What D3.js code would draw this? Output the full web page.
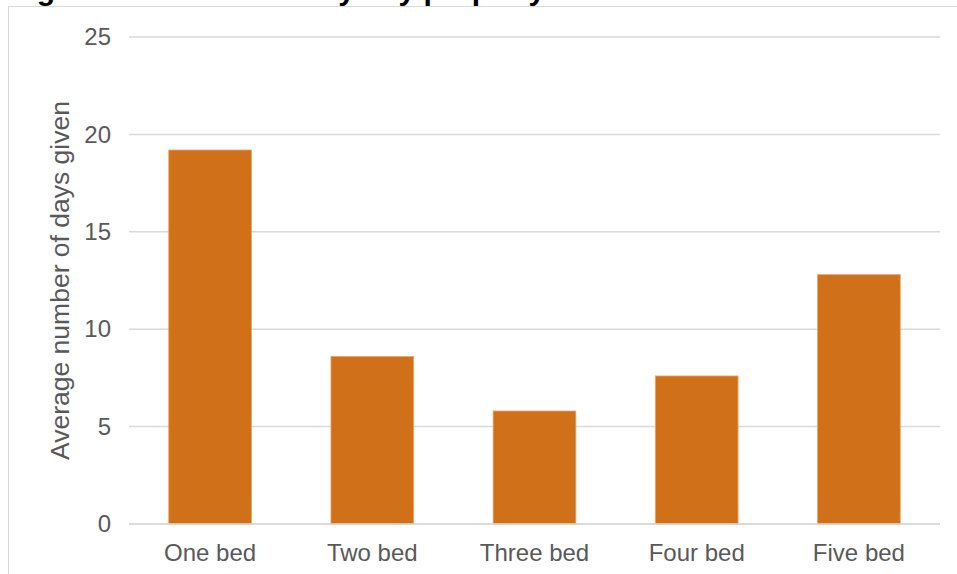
<!DOCTYPE html>
<html>
<head>
<meta charset="utf-8">
<script src="https://cdn.jsdelivr.net/npm/d3@7"></script>
<style>
  body { margin: 0; background: #fff; }
  svg { display: block; font-family: "Liberation Sans", Arial, sans-serif; }
</style>
</head>
<body>
<div class="container"></div>
<script>
var categories = ['One bed', 'Two bed', 'Three bed', 'Four bed', 'Five bed'];
var values = [19.2, 8.6, 5.8, 7.6, 12.8];
var yTicks = [0, 5, 10, 15, 20, 25];
var yTitle = 'Average number of days given';
var chartTitle = 'Figure 5: Number of days by property size';

var width = 957;
var height = 574;

// plot area edges
var pLeft = 129, pRight = 940, pTop = 37, pBottom = 524;

var svg = d3.select('.container')
    .append('svg')
    .attr('width', width)
    .attr('height', height);

// title sits mostly above the visible area, only descenders show
svg.append('text')
    .attr('x', 10)
    .attr('y', -0.5)
    .style('font-size', '30px')
    .style('font-weight', 'bold')
    .style('fill', '#000')
    .text(chartTitle);

// chart frame
svg.append('rect')
    .attr('x', 8.5)
    .attr('y', 6.5)
    .attr('width', 1000)
    .attr('height', 600)
    .style('fill', 'none')
    .style('stroke', '#d9d9d9')
    .style('stroke-width', 1);

var x = d3.scaleBand()
    .domain(categories)
    .range([pLeft, pRight])
    .paddingInner(0.49)
    .paddingOuter(0.245);

var y = d3.scaleLinear()
    .domain([0, 25])
    .range([pBottom, pTop]);

// gridlines
svg.append('g')
    .selectAll('line')
    .data(yTicks)
    .enter()
    .append('line')
    .attr('x1', pLeft)
    .attr('x2', pRight)
    .attr('y1', d => y(d))
    .attr('y2', d => y(d))
    .style('stroke', '#d9d9d9')
    .style('stroke-width', 1.5);

// bars
svg.append('g')
    .selectAll('rect')
    .data(values)
    .enter()
    .append('rect')
    .attr('x', (d, i) => x(categories[i]))
    .attr('y', d => y(d))
    .attr('width', x.bandwidth())
    .attr('height', d => y(0) - y(d))
    .style('fill', '#d0711a')
    .style('stroke', '#e8a56a')
    .style('stroke-width', 0.8);

// baseline
svg.append('line')
    .attr('x1', pLeft)
    .attr('x2', pRight)
    .attr('y1', y(0))
    .attr('y2', y(0))
    .style('stroke', '#d9d9d9')
    .style('stroke-width', 1.5);

// y axis
var yAxis = d3.axisLeft(y)
    .tickValues(yTicks)
    .tickSize(0)
    .tickPadding(0);

var gy = svg.append('g')
    .attr('transform', 'translate(111,0)')
    .call(yAxis);
gy.select('.domain').remove();
gy.selectAll('text')
    .style('font-size', '24px')
    .style('fill', '#595959')
    .style('font-family', '"Liberation Sans", Arial, sans-serif');

// x axis
var xAxis = d3.axisBottom(x)
    .tickSize(0)
    .tickPadding(0);

var gx = svg.append('g')
    .attr('transform', 'translate(0,' + (pBottom + 20) + ')')
    .call(xAxis);
gx.select('.domain').remove();
gx.selectAll('text')
    .style('font-size', '24px')
    .style('fill', '#595959')
    .style('font-family', '"Liberation Sans", Arial, sans-serif');

// y axis title
svg.append('text')
    .attr('transform', 'translate(69,' + ((pTop + pBottom) / 2) + ') rotate(-90)')
    .attr('text-anchor', 'middle')
    .style('font-size', '26.5px')
    .style('fill', '#595959')
    .text(yTitle);
</script>
</body>
</html>
